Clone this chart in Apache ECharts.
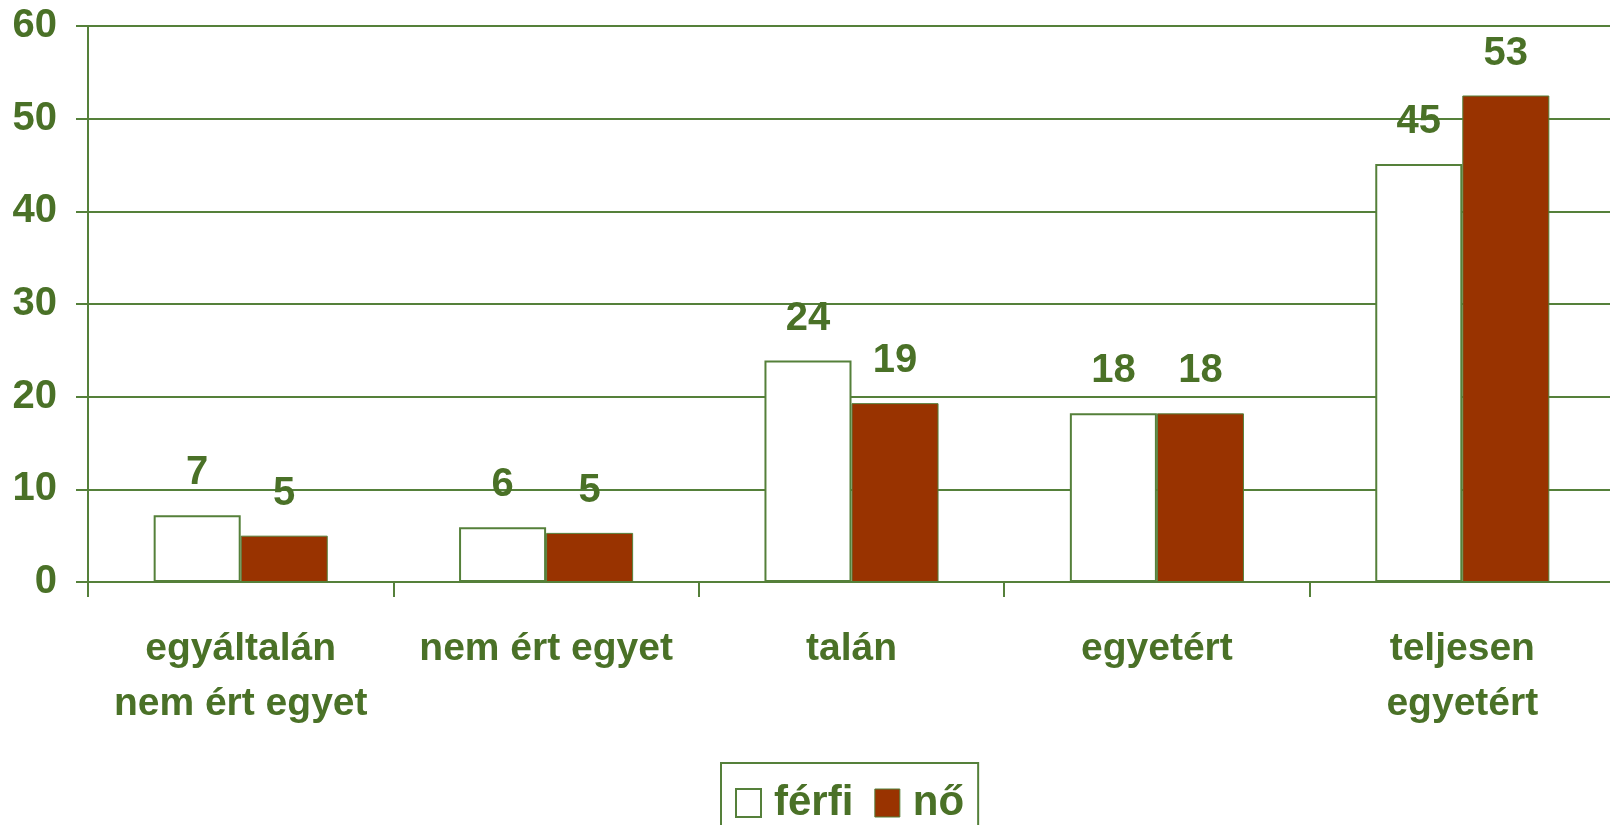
<!DOCTYPE html>
<html>
<head>
<meta charset="utf-8">
<title>férfi / nő</title>
<script src="https://cdn.jsdelivr.net/npm/echarts@6/dist/echarts.min.js"></script>
<style>
  html, body { margin: 0; padding: 0; background: #fff; overflow: hidden; }
  /* a rajzterület kicsit túlnyúlik az ablak jobb szélén */
  #chart { width: 1615px; height: 825px; }
</style>
</head>
<body>
<div id="chart"></div>
<script>
// adatok
const categories = ['egyáltalán\nnem ért egyet', 'nem ért egyet', 'talán', 'egyetért', 'teljesen\negyetért']
const ferfi = [7.2, 5.9, 23.9, 18.2, 45.1]
const no = [5.0, 5.3, 19.3, 18.2, 52.5]
const yTicks = [0, 10, 20, 30, 40, 50, 60]

const green = '#4a7127'
const lineGreen = '#55803a'
const font = 'Liberation Sans, Arial, sans-serif'

const chart = echarts.init(document.getElementById('chart'))

const labelStyle = {
  show: true,
  position: 'top',
  distance: 22,
  color: green,
  fontFamily: font,
  fontWeight: 'bold',
  fontSize: 40,
  formatter: p => Math.round(p.value)
}

chart.setOption({
  animation: false,
  textStyle: { fontFamily: font },
  grid: { left: 88, right: 0, top: 26, bottom: 243, containLabel: false },
  legend: {
    left: 721,
    top: 763,
    itemWidth: 25,
    itemHeight: 28,
    itemGap: 21,
    padding: [19, 14, 30, 14],
    borderColor: lineGreen,
    borderWidth: 2,
    textStyle: { color: green, fontSize: 42, fontWeight: 'bold', fontFamily: font, padding: [0, 0, 0, 8] },
    data: [
      { name: 'férfi', icon: 'rect', itemStyle: { color: '#fff', borderColor: lineGreen, borderWidth: 2 } },
      { name: 'nő', icon: 'rect', itemStyle: { color: '#993300', borderColor: lineGreen, borderWidth: 1 } }
    ]
  },
  xAxis: {
    type: 'category',
    data: categories,
    axisLine: { lineStyle: { color: lineGreen, width: 2 } },
    axisTick: { show: true, length: 15, lineStyle: { color: lineGreen, width: 2 } },
    axisLabel: {
      interval: 0,
      margin: 40,
      color: green,
      fontSize: 39,
      lineHeight: 55,
      fontWeight: 'bold',
      fontFamily: font
    }
  },
  yAxis: {
    type: 'value',
    min: yTicks[0],
    max: yTicks[yTicks.length - 1],
    interval: 10,
    axisLine: { show: true, lineStyle: { color: lineGreen, width: 2 } },
    axisTick: { show: true, length: 12, lineStyle: { color: lineGreen, width: 2 } },
    splitLine: { lineStyle: { color: lineGreen, width: 2 } },
    axisLabel: {
      margin: 31,
      color: green,
      fontSize: 40,
      fontWeight: 'bold',
      fontFamily: font
    }
  },
  series: [
    {
      name: 'férfi',
      type: 'bar',
      data: ferfi,
      barGap: 0,
      barCategoryGap: '43%',
      itemStyle: { color: '#fff', borderColor: lineGreen, borderWidth: 2 },
      label: labelStyle
    },
    {
      name: 'nő',
      type: 'bar',
      data: no,
      itemStyle: { color: '#993300', borderColor: lineGreen, borderWidth: 1 },
      label: labelStyle
    }
  ]
})
</script>
</body>
</html>
